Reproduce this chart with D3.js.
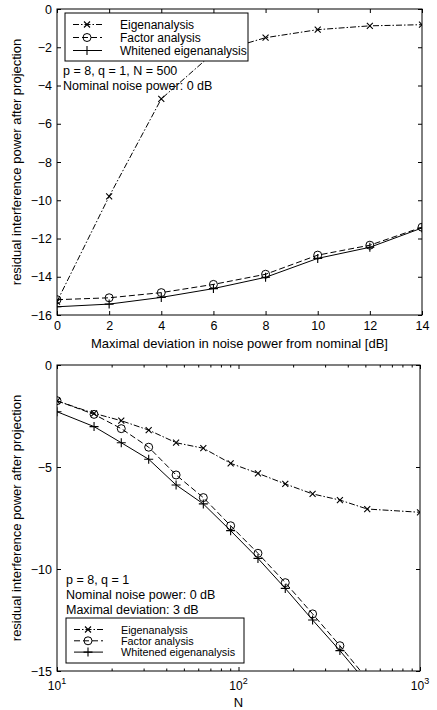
<!DOCTYPE html>
<html>
<head>
<meta charset="UTF-8">
<script src="https://d3js.org/d3.v7.min.js"></script>
<style>
  body { margin: 0; background: #fff; }
  text { font-family: "Liberation Sans", Arial, sans-serif; fill: #000; }
</style>
</head>
<body>
<div id="chart"></div>
<script>
// top panel: deviation from nominal noise power
var devDb = [0, 2, 4, 6, 8, 10, 12, 14];
var topEigen = [-15.3, -9.8, -4.7, -2.3, -1.5, -1.08, -0.88, -0.82];
var topFactor = [-15.2, -15.1, -14.83, -14.4, -13.87, -12.87, -12.35, -11.41];
var topWhite = [-15.57, -15.43, -15.08, -14.62, -14.03, -13.04, -12.46, -11.45];
var topYTicks = [0, -2, -4, -6, -8, -10, -12, -14, -16];

// bottom panel: number of snapshots N
var sizesN = [10, 16, 22.6, 32, 45.3, 64, 90.5, 128, 181, 256, 362, 512, 1000];
var botEigen = [-1.76, -2.37, -2.73, -3.19, -3.81, -4.08, -4.82, -5.31, -5.83, -6.32, -6.62, -7.06, -7.22];
var botFactor = [-1.75, -2.42, -3.12, -4.03, -5.39, -6.5, -7.88, -9.23, -10.67, -12.2, -13.76, -15.4];
var botWhite = [-2.29, -3.02, -3.81, -4.62, -5.88, -6.81, -8.12, -9.48, -10.95, -12.5, -14.0, -15.6];
var botYTicks = [0, -5, -10, -15];

var seriesNames = ['Eigenanalysis', 'Factor analysis', 'Whitened eigenanalysis'];

var W = 437, H = 710;
var svg = d3.select('#chart').append('svg').attr('width', W).attr('height', H);

var styles = [
  { dash: '6,2,1.5,2', marker: 'x' },
  { dash: '6,3', marker: 'o' },
  { dash: null, marker: '+' }
];

function drawMarker(g, type, x, y) {
  if (type === 'x') {
    g.append('path').attr('d', 'M' + (x - 3) + ',' + (y - 3) + 'L' + (x + 3) + ',' + (y + 3) +
      'M' + (x - 3) + ',' + (y + 3) + 'L' + (x + 3) + ',' + (y - 3))
      .attr('stroke', '#000').attr('stroke-width', 1.1).attr('fill', 'none');
  } else if (type === 'o') {
    g.append('circle').attr('cx', x).attr('cy', y).attr('r', 4)
      .attr('stroke', '#000').attr('stroke-width', 1).attr('fill', 'none');
  } else {
    g.append('path').attr('d', 'M' + (x - 4.5) + ',' + y + 'L' + (x + 4.5) + ',' + y +
      'M' + x + ',' + (y - 4.5) + 'L' + x + ',' + (y + 4.5))
      .attr('stroke', '#000').attr('stroke-width', 1.1).attr('fill', 'none');
  }
}

function drawSeries(g, xs, ys, x, y, st) {
  var pts = ys.map(function(v, i) { return [x(xs[i]), y(v)]; });
  g.append('path').attr('d', d3.line()(pts))
    .attr('fill', 'none').attr('stroke', '#000').attr('stroke-width', 1)
    .attr('stroke-dasharray', st.dash);
  pts.forEach(function(p) { drawMarker(g, st.marker, p[0], p[1]); });
}

function drawLegend(g, lx, ly, lw, lh, step, fs) {
  g.append('rect').attr('x', lx).attr('y', ly).attr('width', lw).attr('height', lh)
    .attr('fill', '#fff').attr('stroke', '#000').attr('stroke-width', 1);
  seriesNames.forEach(function(name, i) {
    var yy = ly + 11.5 + i * step;
    g.append('line').attr('x1', lx + 8).attr('x2', lx + 37).attr('y1', yy).attr('y2', yy)
      .attr('stroke', '#000').attr('stroke-width', 1).attr('stroke-dasharray', styles[i].dash);
    drawMarker(g, styles[i].marker, lx + 22, yy);
    g.append('text').attr('x', lx + 55).attr('y', yy + 4).attr('font-size', fs).text(name);
  });
}

function frame(g, x0, x1, y0, y1) {
  g.append('rect').attr('x', x0).attr('y', y0).attr('width', x1 - x0).attr('height', y1 - y0)
    .attr('fill', 'none').attr('stroke', '#000').attr('stroke-width', 1);
}

// ---------- top panel ----------
var L = 57, R = 422;
var tTop = 9, tBot = 315;
var xT = d3.scaleLinear().domain([0, 14]).range([L, R]);
var yT = d3.scaleLinear().domain([-16, 0]).range([tBot, tTop]);
var gT = svg.append('g');
gT.append('rect').attr('x', L).attr('y', tTop).attr('width', R - L).attr('height', tBot - tTop).attr('fill', '#fff');

gT.append('g').attr('transform', 'translate(0,' + tBot + ')')
  .call(d3.axisBottom(xT).tickValues(devDb).tickSizeInner(-4).tickSizeOuter(0).tickPadding(6));
gT.append('g').attr('transform', 'translate(0,' + tTop + ')')
  .call(d3.axisTop(xT).tickValues(devDb).tickSizeInner(-4).tickSizeOuter(0).tickFormat(''));
gT.append('g').attr('transform', 'translate(' + L + ',0)')
  .call(d3.axisLeft(yT).tickValues(topYTicks).tickSizeInner(-4).tickSizeOuter(0).tickPadding(5));
gT.append('g').attr('transform', 'translate(' + R + ',0)')
  .call(d3.axisRight(yT).tickValues(topYTicks).tickSizeInner(-4).tickSizeOuter(0).tickFormat(''));

gT.append('clipPath').attr('id', 'clipT').append('rect')
  .attr('x', L).attr('y', tTop).attr('width', R - L).attr('height', tBot - tTop);
var dT = gT.append('g').attr('clip-path', 'url(#clipT)');
drawSeries(dT, devDb, topEigen, xT, yT, styles[0]);
drawSeries(dT, devDb, topFactor, xT, yT, styles[1]);
drawSeries(dT, devDb, topWhite, xT, yT, styles[2]);

drawLegend(gT, 65, 13, 183, 48, 13, 12);
gT.append('text').attr('x', 63).attr('y', 75).attr('font-size', 12.5).text('p = 8, q = 1, N = 500');
gT.append('text').attr('x', 63).attr('y', 90).attr('font-size', 12.5).text('Nominal noise power: 0 dB');
frame(gT, L, R, tTop, tBot);

gT.append('text').attr('x', (L + R) / 2).attr('y', 348).attr('text-anchor', 'middle')
  .attr('font-size', 13).text('Maximal deviation in noise power from nominal [dB]');
gT.append('text').attr('transform', 'translate(21,' + ((tTop + tBot) / 2) + ') rotate(-90)')
  .attr('text-anchor', 'middle').attr('font-size', 13)
  .text('residual interference power after projection');

// ---------- bottom panel ----------
var bTop = 365, bBot = 671, bR = 420;
var xB = d3.scaleLog().domain([10, 1000]).range([L, bR]);
var yB = d3.scaleLinear().domain([-15, 0]).range([bBot, bTop]);
var gB = svg.append('g');
gB.append('rect').attr('x', L).attr('y', bTop).attr('width', bR - L).attr('height', bBot - bTop).attr('fill', '#fff');

var majorN = [10, 100, 1000];
var minorN = d3.range(1, 3).flatMap(function(e) {
  return d3.range(2, 10).map(function(k) { return k * Math.pow(10, e); });
});
gB.append('g').attr('transform', 'translate(0,' + bBot + ')')
  .call(d3.axisBottom(xB).tickValues(minorN).tickSizeInner(-2.5).tickSizeOuter(0).tickFormat(''));
gB.append('g').attr('transform', 'translate(0,' + bTop + ')')
  .call(d3.axisTop(xB).tickValues(minorN).tickSizeInner(-2.5).tickSizeOuter(0).tickFormat(''));
gB.append('g').attr('transform', 'translate(0,' + bTop + ')')
  .call(d3.axisTop(xB).tickValues(majorN).tickSizeInner(-4).tickSizeOuter(0).tickFormat(''));
gB.append('g').attr('transform', 'translate(0,' + bBot + ')')
  .call(d3.axisBottom(xB).tickValues(majorN).tickSizeInner(-4).tickSizeOuter(0).tickFormat(''));
majorN.forEach(function(v) {
  var t = gB.append('text').attr('x', xB(v)).attr('y', 690).attr('text-anchor', 'middle').attr('font-size', 12);
  t.append('tspan').text('10');
  t.append('tspan').attr('dy', -6).attr('font-size', 9).text(Math.round(Math.log10(v)));
});
gB.append('g').attr('transform', 'translate(' + L + ',0)')
  .call(d3.axisLeft(yB).tickValues(botYTicks).tickSizeInner(-4).tickSizeOuter(0).tickPadding(5));
gB.append('g').attr('transform', 'translate(' + bR + ',0)')
  .call(d3.axisRight(yB).tickValues(botYTicks).tickSizeInner(-4).tickSizeOuter(0).tickFormat(''));

gB.append('clipPath').attr('id', 'clipB').append('rect')
  .attr('x', L).attr('y', bTop).attr('width', bR - L).attr('height', bBot - bTop);
var dB = gB.append('g').attr('clip-path', 'url(#clipB)');
drawSeries(dB, sizesN, botEigen, xB, yB, styles[0]);
drawSeries(dB, sizesN, botFactor, xB, yB, styles[1]);
drawSeries(dB, sizesN, botWhite, xB, yB, styles[2]);

gB.append('text').attr('x', 66).attr('y', 584).attr('font-size', 12.5).text('p = 8, q = 1');
gB.append('text').attr('x', 66).attr('y', 599).attr('font-size', 12.5).text('Nominal noise power: 0 dB');
gB.append('text').attr('x', 66).attr('y', 613.5).attr('font-size', 12.5).text('Maximal deviation: 3 dB');
drawLegend(gB, 66, 618, 178, 45, 11.3, 10.8);
frame(gB, L, bR, bTop, bBot);

gB.append('text').attr('x', (L + bR) / 2).attr('y', 707).attr('text-anchor', 'middle')
  .attr('font-size', 13).text('N');
gB.append('text').attr('transform', 'translate(21,' + ((bTop + bBot) / 2) + ') rotate(-90)')
  .attr('text-anchor', 'middle').attr('font-size', 13)
  .text('residual interference power after projection');

// axis styling like the original
svg.selectAll('.domain').remove();
svg.selectAll('.tick line').attr('stroke', '#000');
svg.selectAll('.tick text').attr('font-size', 12.5).attr('fill', '#000')
  .attr('font-family', '"Liberation Sans", Arial, sans-serif');
</script>
</body>
</html>
